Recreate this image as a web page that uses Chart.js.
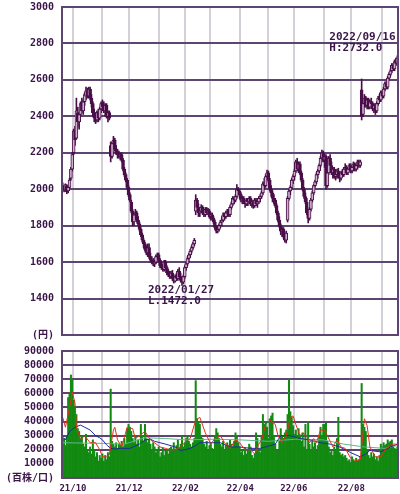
<!DOCTYPE html>
<html>
<head>
<meta charset="utf-8">
<script src="https://cdn.jsdelivr.net/npm/chart.js@4.4.0/dist/chart.umd.min.js"></script>
<style>
  body { margin: 0; background: #fff; }
  #wrap { position: relative; width: 400px; height: 494px; }
  #priceChart { position: absolute; left: 0; top: 0; }
  #volChart { position: absolute; left: 0; top: 340px; }
</style>
</head>
<body>
<div id="wrap">
  <canvas id="priceChart" width="400" height="340"></canvas>
  <canvas id="volChart" width="400" height="154"></canvas>
</div>
<script>
// 月と営業日数 (2021/09 途中 〜 2022/09/16)
const months = ['21/09', '21/10', '21/11', '21/12', '22/01', '22/02', '22/03',
                '22/04', '22/05', '22/06', '22/07', '22/08', '22/09'];
const monthDays = [8, 21, 20, 22, 19, 18, 22, 20, 19, 22, 20, 22, 12];

// 日足 (円)
const opens = [
  2020,2005,1995,2020,1990,2010,2060,2110,2200,2320,
  2280,2420,2370,2410,2470,2430,2480,2510,2540,2510,
  2550,2500,2470,2420,2390,2380,2420,2390,2440,2470,
  2450,2430,2460,2400,2420,2240,2180,2250,2270,2220,
  2200,2190,2180,2190,2160,2110,2080,2050,2010,1970,
  1930,1880,1820,1860,1870,1830,1810,1780,1750,1720,
  1700,1670,1650,1680,1630,1610,1600,1590,1600,1630,
  1640,1610,1580,1570,1560,1600,1570,1540,1530,1520,
  1540,1510,1495,1520,1510,1550,1520,1500,1490,1520,
  1570,1590,1620,1640,1660,1680,1700,1880,1940,1900,
  1870,1880,1900,1870,1860,1890,1870,1880,1850,1860,
  1840,1820,1790,1770,1780,1800,1820,1830,1860,1850,
  1870,1880,1860,1900,1920,1950,1940,1960,2000,1990,
  1970,1940,1950,1930,1920,1940,1930,1950,1920,1930,
  1910,1940,1920,1930,1950,1960,1980,2030,2020,2070,
  2090,2050,2000,1980,1950,1940,1910,1870,1830,1800,
  1770,1780,1740,1720,1830,1950,1990,2010,2050,2070,
  2100,2150,2110,2140,2090,2050,2000,1960,1930,1870,
  1840,1890,1940,1980,2020,2040,2080,2100,2130,2170,
  2200,2160,2180,2020,2090,2170,2130,2090,2110,2070,
  2080,2100,2070,2060,2090,2080,2110,2120,2090,2110,
  2130,2100,2120,2140,2110,2130,2150,2130,2545,2410,
  2470,2500,2460,2490,2450,2480,2470,2440,2460,2430,
  2470,2500,2490,2530,2510,2550,2580,2560,2610,2630,
  2650,2680,2660,2700,2690
];
const highs = [
  2035,2020,2030,2025,2020,2060,2120,2200,2330,2345,
  2500,2450,2420,2480,2500,2490,2530,2560,2555,2560,
  2560,2520,2480,2440,2420,2430,2440,2450,2480,2490,
  2480,2470,2470,2430,2430,2260,2260,2290,2280,2240,
  2220,2210,2200,2200,2170,2120,2090,2060,2020,1980,
  1940,1890,1870,1890,1880,1850,1820,1790,1760,1730,
  1710,1690,1700,1700,1650,1630,1620,1610,1640,1650,
  1650,1620,1600,1590,1610,1610,1580,1560,1550,1550,
  1555,1520,1530,1540,1560,1570,1540,1520,1530,1580,
  1600,1630,1650,1670,1690,1710,1730,1970,1950,1920,
  1900,1915,1910,1880,1900,1900,1895,1890,1870,1870,
  1850,1830,1800,1800,1810,1830,1850,1870,1870,1880,
  1890,1890,1910,1930,1960,1960,1970,2025,2010,2000,
  1980,1960,1960,1940,1950,1950,1960,1960,1940,1940,
  1950,1950,1940,1960,1970,1990,2040,2060,2080,2105,
  2100,2060,2020,1990,1970,1950,1920,1880,1850,1810,
  1790,1790,1760,1770,1960,2000,2020,2060,2080,2110,
  2160,2170,2150,2150,2100,2060,2010,1980,1950,1890,
  1900,1950,1990,2025,2050,2090,2110,2140,2180,2215,
  2210,2190,2190,2100,2180,2190,2150,2120,2120,2100,
  2110,2115,2090,2100,2110,2120,2140,2130,2120,2140,
  2140,2130,2150,2145,2140,2160,2160,2160,2605,2490,
  2520,2510,2500,2500,2490,2500,2480,2470,2470,2480,
  2510,2520,2540,2540,2560,2590,2590,2620,2640,2660,
  2690,2690,2710,2720,2732
];
const lows = [
  1995,1985,1990,1975,1980,2005,2050,2100,2190,2240,
  2275,2340,2330,2400,2420,2410,2460,2490,2500,2500,
  2490,2450,2400,2370,2360,2370,2370,2380,2420,2440,
  2420,2400,2390,2370,2380,2150,2170,2230,2210,2190,
  2170,2170,2160,2150,2100,2070,2040,2000,1960,1930,
  1870,1800,1800,1840,1820,1800,1770,1740,1710,1680,
  1660,1640,1630,1620,1600,1590,1580,1575,1590,1610,
  1600,1570,1560,1550,1550,1560,1530,1520,1510,1510,
  1500,1485,1490,1500,1500,1510,1490,1472,1480,1510,
  1555,1580,1600,1625,1650,1670,1690,1860,1880,1850,
  1850,1870,1860,1850,1850,1860,1860,1840,1830,1830,
  1810,1780,1760,1760,1770,1790,1800,1820,1830,1840,
  1850,1850,1850,1890,1910,1920,1930,1950,1970,1950,
  1930,1920,1920,1900,1910,1910,1920,1910,1900,1895,
  1900,1910,1900,1920,1930,1950,1970,2000,2010,2050,
  2040,1990,1960,1930,1920,1900,1860,1820,1790,1750,
  1740,1730,1710,1705,1820,1940,1970,2000,2030,2050,
  2090,2100,2090,2080,2040,1990,1950,1920,1860,1815,
  1830,1880,1930,1970,2010,2030,2060,2090,2120,2150,
  2150,2120,2000,2010,2080,2120,2080,2060,2060,2050,
  2060,2060,2040,2050,2070,2070,2090,2080,2080,2100,
  2090,2090,2100,2100,2100,2110,2120,2120,2380,2400,
  2450,2450,2440,2440,2440,2460,2430,2420,2410,2420,
  2460,2480,2480,2500,2500,2540,2550,2550,2600,2620,
  2640,2650,2650,2680,2680
];
const closes = [
  2005,1995,2025,1985,2010,2050,2110,2190,2320,2270,
  2430,2370,2410,2470,2430,2480,2520,2540,2510,2550,
  2500,2470,2420,2390,2380,2420,2390,2440,2470,2450,
  2430,2460,2400,2420,2390,2180,2250,2270,2220,2200,
  2190,2180,2190,2160,2110,2080,2050,2010,1970,1940,
  1880,1820,1860,1870,1830,1810,1780,1750,1720,1700,
  1670,1650,1680,1630,1610,1600,1590,1600,1630,1640,
  1610,1580,1570,1560,1600,1570,1540,1530,1520,1540,
  1510,1495,1520,1510,1550,1520,1500,1490,1520,1570,
  1590,1620,1640,1660,1680,1700,1720,1940,1900,1870,
  1880,1900,1870,1860,1890,1870,1880,1850,1860,1840,
  1820,1790,1770,1780,1800,1820,1830,1860,1850,1870,
  1880,1860,1900,1920,1950,1940,1960,2000,1990,1970,
  1940,1950,1930,1920,1940,1930,1950,1920,1930,1910,
  1940,1920,1930,1950,1960,1980,2030,2020,2070,2090,
  2050,2000,1980,1950,1940,1910,1870,1830,1800,1770,
  1780,1740,1720,1760,1950,1990,2010,2050,2070,2100,
  2150,2110,2140,2090,2050,2000,1960,1930,1870,1840,
  1890,1940,1980,2020,2040,2080,2100,2130,2170,2200,
  2160,2180,2020,2090,2170,2130,2090,2110,2070,2080,
  2100,2070,2060,2090,2080,2110,2120,2090,2110,2130,
  2100,2120,2140,2110,2130,2150,2130,2150,2400,2470,
  2500,2460,2490,2450,2480,2470,2440,2460,2430,2470,
  2500,2490,2530,2510,2550,2580,2560,2610,2630,2650,
  2680,2660,2700,2690,2720
];

// 出来高 (百株)
const volumes = [
  24000,28000,23000,30000,57000,60000,73000,70000,55000,50000,
  45000,35000,33000,28000,30000,24000,22000,31000,20000,18000,
  22000,17000,27000,20000,15000,18000,12000,16000,14000,17000,
  12000,16000,13000,18000,15000,63000,26000,24000,22000,25000,
  21000,24000,23000,26000,22000,28000,24000,35000,38000,36000,
  33000,28000,25000,30000,24000,27000,22000,38000,30000,26000,
  38000,28000,25000,27000,24000,20000,25000,22000,18000,20000,
  22000,15000,18000,21000,16000,19000,20000,17000,21000,22000,
  20000,25000,19000,23000,27000,21000,24000,30000,22000,25000,
  28000,30000,26000,24000,22000,25000,28000,69000,42000,40000,
  38000,30000,28000,24000,22000,26000,20000,23000,25000,21000,
  19000,30000,35000,32000,28000,24000,22000,26000,20000,23000,
  25000,23000,27000,24000,22000,26000,32000,30000,25000,22000,
  18000,20000,16000,21000,17000,19000,24000,22000,16000,14000,
  17000,32000,28000,20000,18000,30000,45000,38000,40000,36000,
  28000,42000,44000,46000,30000,24000,20000,19000,26000,35000,
  30000,28000,32000,34000,45000,70000,47000,43000,37000,31000,
  34000,28000,35000,30000,26000,32000,22000,38000,20000,40000,
  24000,20000,26000,22000,25000,19000,23000,30000,36000,30000,
  38000,38000,39000,26000,22000,18000,20000,16000,22000,19000,
  28000,43000,18000,16000,17000,15000,16000,14000,12000,13000,
  11000,15000,13000,12000,14000,12000,13000,15000,67000,38000,
  36000,33000,20000,16000,14000,18000,15000,17000,13000,15000,
  12000,16000,24000,22000,25000,23000,24000,27000,25000,26000,
  27000,22000,21000,20000,22000
];

// 出来高移動平均 [日, 値]
const volMaShort = [
  [0,43000],[2,36000],[5,50000],[7,61000],[9,53000],[10,36000],[13,27000],[16,30000],
  [20,25000],[24,25000],[27,20000],[29,15000],[32,15000],[34,16500],[37,34000],[38,36000],
  [40,27000],[43,22000],[47,36000],[51,35000],[53,28000],[56,30000],[60,33000],[64,27000],
  [67,25000],[71,22000],[75,21000],[78,20000],[82,20000],[86,22000],[89,25000],[93,28000],
  [97,41000],[100,43000],[104,32000],[108,24000],[111,28000],[115,30000],[118,25000],[122,21000],
  [126,27000],[129,25000],[133,20000],[137,20000],[140,17000],[143,24000],[145,27000],[148,38000],
  [151,41000],[155,38000],[157,30000],[160,25000],[163,30000],[166,43000],[168,44000],[170,38000],
  [173,30000],[175,32000],[178,30000],[180,25000],[183,28000],[185,25000],[188,34000],[191,34000],
  [195,26000],[197,22000],[200,27000],[203,22000],[206,21000],[210,14000],[213,12000],[217,13000],
  [220,42000],[222,37000],[224,22000],[228,15000],[232,15000],[235,20000],[239,24000],[244,24000]
];
const volMaMid = [
  [0,29000],[2,27000],[5,33000],[9,36000],[13,37500],[16,36000],[20,34000],[24,30000],
  [27,28500],[29,27000],[32,23500],[35,21000],[38,20500],[42,21000],[49,21000],[56,24000],
  [60,27000],[64,27500],[67,26000],[75,24000],[82,22000],[86,19500],[89,20000],[93,21000],
  [97,23000],[100,25000],[107,25000],[115,25000],[122,22000],[129,22000],[137,21000],[144,21000],
  [148,22000],[155,24000],[159,30000],[166,30000],[173,28000],[180,27000],[188,25000],[195,24000],
  [202,22000],[210,18000],[217,15000],[221,17000],[224,19500],[232,18500],[239,22000],[244,24000]
];
const volMaLong = [
  [0,25000],[30,24500],[45,24000],[60,28500],[75,28000],[90,27000],[110,27500],[130,27000],
  [150,26000],[170,27500],[190,27000],[205,24000],[220,22000],[235,21000],[244,23000]
];

const priceTicks = { min: 1200, max: 3000, step: 200 };
const volTicks = { min: 0, max: 90000, step: 10000 };

// 月初の位置
const monthStarts = [];
let acc = 0;
monthDays.forEach(d => { monthStarts.push(acc); acc += d; });
const dayCount = acc;

const INK = '#3a1648';
const GRID_H = '#5e4470';
const GRID_V = '#d4d0d8';
const CANDLE = '#4a0f48';
const CANDLE_UP = '#cdb2cd';
const FONT = '"DejaVu Sans Mono", "Noto Sans CJK JP", monospace';

function monthTicks(scale) {
    scale.ticks = monthStarts.map(s => ({ value: s - 0.5 }));
}

function monthLabel(value) {
    const k = monthStarts.indexOf(Math.round(value + 0.5));
    if (k <= 0) return '';
    return k % 2 === 1 ? months[k] : '';
}

// y軸: 幅固定、ラベル分の余白は取らない
function fixedYAxis(s) {
    s.width = 62;
    s.paddingTop = 0;
    s.paddingBottom = 0;
}

const frame = {
    id: 'frame',
    afterDatasetsDraw(chart) {
        const a = chart.chartArea;
        const ctx = chart.ctx;
        ctx.save();
        ctx.strokeStyle = GRID_H;
        ctx.lineWidth = 2;
        ctx.strokeRect(a.left, a.top, a.right - a.left, a.bottom - a.top);
        ctx.restore();
    }
};

// 高値・安値の注記
const extremes = {
    id: 'extremes',
    afterDraw(chart) {
        const x = chart.scales.x, y = chart.scales.y;
        const ctx = chart.ctx;
        let hi = 0, lo = 0;
        highs.forEach((v, i) => { if (v > highs[hi]) hi = i; });
        lows.forEach((v, i) => { if (v < lows[lo]) lo = i; });
        ctx.save();
        ctx.fillStyle = INK;
        ctx.font = 'bold 11px ' + FONT;
        ctx.textBaseline = 'middle';
        // 高値
        let px = x.getPixelForValue(hi), py = y.getPixelForValue(highs[hi]);
        ctx.textAlign = 'left';
        ctx.fillText('2022/09/16', px - 68, py - 19);
        ctx.fillText('H:' + highs[hi].toFixed(1), px - 68, py - 8);
        // 安値
        px = x.getPixelForValue(lo); py = y.getPixelForValue(lows[lo]);
        ctx.fillText('2022/01/27', px - 34, py + 5);
        ctx.fillText('L.' + lows[lo].toFixed(1), px - 34, py + 16);
        ctx.restore();
    }
};

const days = closes.map((c, i) => i);

const xDays = {
    type: 'linear',
    offset: false,
    min: -0.5,
    max: dayCount - 0.5,
    afterBuildTicks: monthTicks,
    grid: { color: GRID_V, lineWidth: 2, drawTicks: false, offset: false },
    border: { display: false }
};

new Chart(document.getElementById('priceChart'), {
    type: 'bar',
    data: {
        datasets: [
            {
                label: 'body',
                data: days.map(i => ({ x: i, y: [opens[i], closes[i]] })),
                backgroundColor: days.map(i => closes[i] >= opens[i] ? CANDLE_UP : CANDLE),
                borderColor: CANDLE,
                borderWidth: 1,
                borderSkipped: false,
                barThickness: 3,
                minBarLength: 1,
                grouped: false,
                order: 0
            },
            {
                label: 'wick',
                data: days.map(i => ({ x: i, y: [lows[i], highs[i]] })),
                backgroundColor: CANDLE,
                barThickness: 1,
                grouped: false,
                order: 1
            }
        ]
    },
    options: {
        responsive: false,
        animation: false,
        layout: { padding: { top: 7, right: 2, bottom: 5, left: 0 } },
        plugins: { legend: { display: false }, tooltip: { enabled: false } },
        scales: {
            x: Object.assign({}, xDays, {
                afterFit: (s) => { s.height = 0; },
                ticks: { display: false, autoSkip: false }
            }),
            y: {
                min: priceTicks.min,
                max: priceTicks.max,
                afterFit: fixedYAxis,
                ticks: {
                    stepSize: priceTicks.step,
                    autoSkip: false,
                    color: INK,
                    padding: 8,
                    font: { family: FONT, size: 10, weight: 'bold' },
                    callback: (v) => v === priceTicks.min ? '(円)' : v
                },
                grid: { color: GRID_H, lineWidth: 2, drawTicks: false },
                border: { color: GRID_H, width: 2 }
            }
        }
    },
    plugins: [frame, extremes]
});

new Chart(document.getElementById('volChart'), {
    type: 'bar',
    data: {
        datasets: [
            {
                type: 'line',
                label: 'short',
                data: volMaShort,
                borderColor: '#e0301c',
                borderWidth: 1,
                pointRadius: 0,
                order: 0
            },
            {
                type: 'line',
                label: 'mid',
                data: volMaMid,
                borderColor: '#1c2a9c',
                borderWidth: 1,
                pointRadius: 0,
                order: 0
            },
            {
                type: 'line',
                label: 'long',
                data: volMaLong,
                borderColor: '#5cb88c',
                borderWidth: 1,
                pointRadius: 0,
                order: 0
            },
            {
                label: 'volume',
                data: days.map(i => ({ x: i, y: volumes[i] })),
                backgroundColor: '#128a12',
                barPercentage: 1,
                categoryPercentage: 1,
                order: 1
            }
        ]
    },
    options: {
        responsive: false,
        animation: false,
        layout: { padding: { top: 11, right: 2, bottom: 0, left: 0 } },
        plugins: { legend: { display: false }, tooltip: { enabled: false } },
        scales: {
            x: Object.assign({}, xDays, {
                afterFit: (s) => { s.height = 16; },
                ticks: {
                    autoSkip: false,
                    maxRotation: 0,
                    color: INK,
                    padding: 5,
                    font: { family: FONT, size: 9, weight: 'bold' },
                    callback: monthLabel
                }
            }),
            y: {
                min: volTicks.min,
                max: volTicks.max,
                afterFit: fixedYAxis,
                ticks: {
                    stepSize: volTicks.step,
                    autoSkip: false,
                    color: INK,
                    padding: 8,
                    font: { family: FONT, size: 10, weight: 'bold' },
                    callback: (v) => v === volTicks.min ? '(百株/口)' : v
                },
                grid: { color: GRID_H, lineWidth: 2, drawTicks: false },
                border: { color: GRID_H, width: 2 }
            }
        }
    },
    plugins: [frame]
});
</script>
</body>
</html>
